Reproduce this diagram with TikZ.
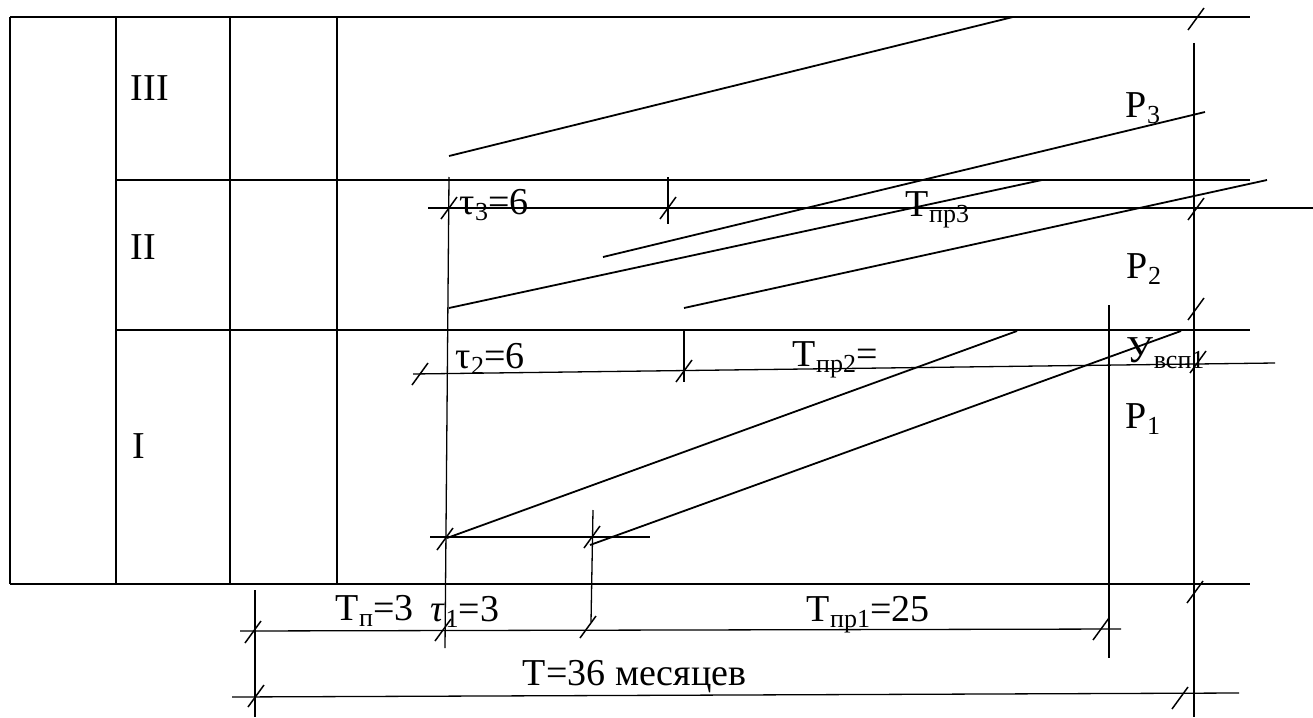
\documentclass[tikz,border=0pt]{standalone}
\usepackage{fontspec}
\setmainfont{Liberation Serif}
\newcommand\sbs[1]{\raisebox{-6pt}{\fontsize{26}{27}\selectfont #1}}
\begin{document}
\begin{tikzpicture}[x=1pt,y=-1pt,line width=1.8pt,line cap=butt,
  lbl/.style={anchor=base west,inner sep=0pt,font=\fontsize{38}{40}\selectfont},
  tk/.pic={\draw[line width=1.5pt] (-8,11) -- (8,-11);},
  thinln/.style={line width=1.3pt}]
\useasboundingbox (0,0) rectangle (1313,717);
% table
\draw (10,17) -- (1250,17);
\draw (10,584) -- (1250,584);
\draw (116,180) -- (1250,180);
\draw (116,330) -- (1250,330);
\foreach \x in {10,116,230,337} \draw (\x,17) -- (\x,584);
% right vertical
\draw (1194,43) -- (1194,717);
% stage III / II lines
\draw (449,156) -- (1013,17);
\draw (603,257) -- (1205,112);
\draw (449,308) -- (1042,180);
\draw (684,308) -- (1267,180);
% stage I lines
\draw (447,538) -- (1017,331);
\draw (590,545) -- (1181,331);
% tau3 / Tpr3 dimension
\draw[thinln] (428,208) -- (1313,208);
\draw[thinln] (449,177) -- (445,648);
\draw[thinln] (668,177) -- (668,224);
\pic at (449,208) {tk};
\pic at (668,208) {tk};
\pic at (1196,209) {tk};
% tau2 / Tpr2 dimension
\draw[thinln] (413,374) -- (1275,363);
\draw[thinln] (684,331) -- (684,382);
\draw[thinln] (1109,305) -- (1109,658);
\pic at (420,374) {tk};
\pic at (684,371) {tk};
\pic at (1198,362) {tk};
\pic at (1196,309) {tk};
% stage I start dimension
\draw[thinln] (430,537) -- (650,537);
\draw[thinln] (593,510) -- (591,622);
\pic at (445,539) {tk};
\pic at (592,537) {tk};
% bottom dimensions
\draw[thinln] (240,631) -- (1121,629);
\draw[thinln] (232,697) -- (1239,693);
\draw[thinln] (255,590) -- (255,717);
\pic at (253,632) {tk};
\pic at (443,630) {tk};
\pic at (588,627) {tk};
\pic at (1101,629) {tk};
\pic at (256,696) {tk};
\pic at (1180,698) {tk};
\pic at (1195,592) {tk};
\pic at (1196,19) {tk};
% labels
\node[lbl] (l3) at (130,100) {III};
\node[lbl] (l2) at (130,259) {II};
\node[lbl] (l1) at (132,458) {I};
\node[lbl] (tau3) at (459,214) {τ\sbs{3}=6};
\node[lbl] (tpr3) at (905,216) {Т\sbs{пр3}};
\node[lbl] (p3) at (1125,117) {Р\sbs{3}};
\node[lbl] (p2) at (1126,278) {Р\sbs{2}};
\node[lbl] (tau2) at (455,368) {τ\sbs{2}=6};
\node[lbl] (tpr2) at (792,366) {Т\sbs{пр2}=};
\node[lbl] (uvsp) at (1126,362) {У\sbs{всп1}};
\node[lbl] (p1) at (1125,428) {Р\sbs{1}};
\node[lbl] (tp) at (335,620) {Т\sbs{п}=3};
\node[lbl] (tau1) at (430,621) {\textit{τ}\sbs{1}=3};
\node[lbl] (tpr1) at (806,621) {Т\sbs{пр1}=25};
\node[lbl] (tt) at (522,685) {Т=36 месяцев};
\end{tikzpicture}
\end{document}
